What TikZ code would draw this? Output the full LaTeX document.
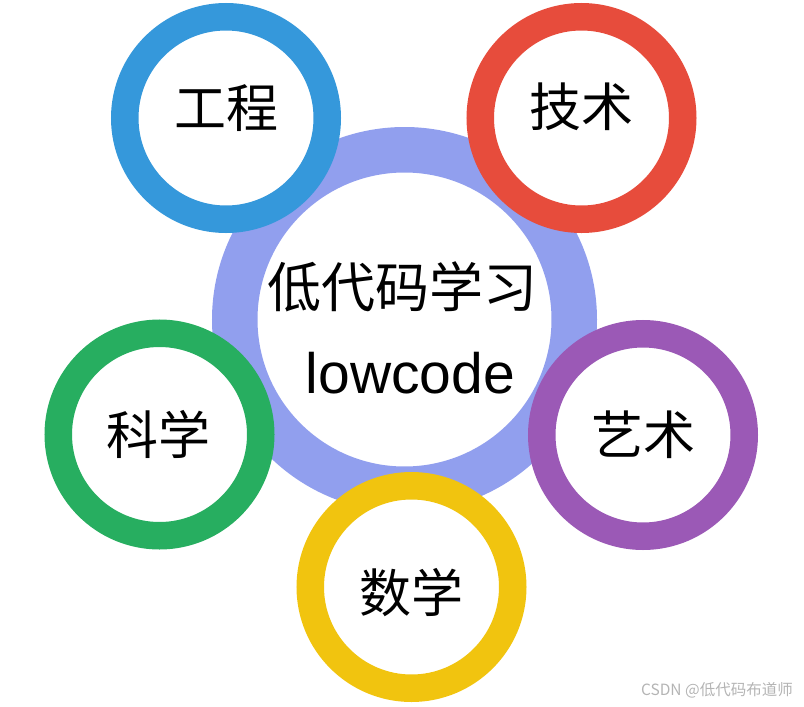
\documentclass[tikz,border=0pt]{standalone}
\usepackage{fontspec}
\setmainfont{Liberation Sans}
\newfontfamily\cjk{Noto Sans CJK SC}
\definecolor{cblue}{HTML}{3598DB}
\definecolor{cred}{HTML}{E74C3C}
\definecolor{cgreen}{HTML}{27AE60}
\definecolor{cpurple}{HTML}{9B59B6}
\definecolor{cyellow}{HTML}{F1C40F}
\definecolor{ccore}{HTML}{919FEE}
\definecolor{wmark}{HTML}{B4B4B4}
\tikzset{
  ring/.style={circle, draw=#1, fill=white, line width=27.5pt, minimum size=202.5pt, inner sep=0pt},
  corering/.style={circle, draw=ccore, fill=white, line width=45.5pt, minimum size=339.5pt, inner sep=0pt},
  lbl/.style={font=\cjk\fontsize{52}{62}\selectfont, inner sep=0pt, anchor=center},
}
\begin{document}
\begin{tikzpicture}[x=1pt,y=-1pt]
\useasboundingbox (0,0) rectangle (804,707);
\node[corering] (core) at (404.5,319.5) {};
\node[ring=cblue] (eng) at (226,118) {};
\node[ring=cred] (tech) at (581.5,118) {};
\node[ring=cgreen] (sci) at (159.5,434.5) {};
\node[ring=cpurple] (art) at (643,435) {};
\node[ring=cyellow] (math) at (411.5,587) {};
\node[font=\cjk\fontsize{54}{64}\selectfont, inner sep=0pt, anchor=center] (t1) at (402.5,287) {低代码学习};
\node[font=\fontsize{57}{68}\selectfont, inner sep=0pt, anchor=base] (t2) at (410.5,393) {lowcode};
\node[lbl] (teng) at (226,108) {工程};
\node[lbl] (ttech) at (581.5,107) {技术};
\node[lbl] (tsci) at (158,434.5) {科学};
\node[lbl] (tart) at (643,434.5) {艺术};
\node[lbl] (tmath) at (411.5,592.5) {数学};
\node[font=\cjk\fontsize{15.5}{18}\selectfont, text=wmark, inner sep=0pt, anchor=east] (wm) at (793,690) {CSDN @低代码布道师};
\end{tikzpicture}
\end{document}
